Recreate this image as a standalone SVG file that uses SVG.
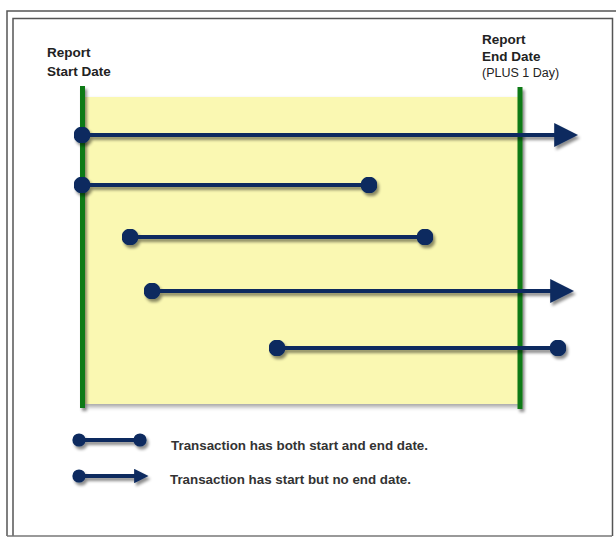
<svg xmlns="http://www.w3.org/2000/svg" width="616" height="539" viewBox="0 0 616 539">
<defs>
<filter id="sh" filterUnits="userSpaceOnUse" x="0" y="0" width="616" height="539">
<feDropShadow dx="2" dy="3" stdDeviation="1.5" flood-color="#000" flood-opacity="0.45"/>
</filter>
<filter id="shb" filterUnits="userSpaceOnUse" x="0" y="0" width="616" height="539">
<feDropShadow dx="3" dy="3" stdDeviation="2" flood-color="#000" flood-opacity="0.35"/>
</filter>
<marker id="dot" viewBox="0 0 10 10" refX="5" refY="5" markerWidth="4.2" markerHeight="4.2" markerUnits="strokeWidth">
<circle cx="5" cy="5" r="5" fill="#0b2a5e"/>
</marker>
<marker id="arr" viewBox="0 0 10 10" refX="2" refY="5" markerWidth="6" markerHeight="6" markerUnits="strokeWidth" orient="auto">
<path d="M0,0 L10,5 L0,10 Z" fill="#0b2a5e"/>
</marker>
<marker id="dotS" viewBox="0 0 10 10" refX="5" refY="5" markerWidth="3.3" markerHeight="3.3" markerUnits="strokeWidth">
<circle cx="5" cy="5" r="5" fill="#0b2a5e"/>
</marker>
<marker id="arrS" viewBox="0 0 10 10" refX="2" refY="5" markerWidth="3.6" markerHeight="3.6" markerUnits="strokeWidth" orient="auto">
<path d="M0,0 L10,5 L0,10 Z" fill="#0b2a5e"/>
</marker>
<style>
.frame{fill:none;stroke:#555;stroke-width:1.5}
.tx{stroke:#0b2a5e;stroke-width:4;fill:none}
.g{fill:#0e7a12}
.lbl{font-family:"Liberation Sans",Arial,sans-serif;font-size:13.5px;font-weight:bold;fill:#222}
.leg{font-family:"Liberation Sans",Arial,sans-serif;font-size:12px;font-weight:bold;fill:#333}
</style>
</defs>
<rect width="616" height="539" fill="#fff"/>
<g id="frame">
<path class="frame" d="M7,536 V11 H616"/>
<path class="frame" d="M13,536 V18.5 H612.5 V536"/>
<line x1="7" y1="536" x2="612" y2="536" stroke="#777" stroke-width="1.5"/>
</g>
<g id="period">
<rect x="83" y="97" width="435" height="307" fill="#faf8b2" filter="url(#shb)"/>
</g>
<g id="start-line">
<rect class="g" x="80" y="86" width="5" height="322" filter="url(#sh)"/>
<text class="lbl" x="47" y="57">Report</text>
<text class="lbl" x="47" y="76">Start Date</text>
</g>
<g id="end-line">
<rect class="g" x="517.5" y="87" width="5" height="322" filter="url(#sh)"/>
<text class="lbl" x="482" y="44">Report</text>
<text class="lbl" x="482" y="61">End Date</text>
<text class="lbl" x="482" y="77" style="font-weight:normal;font-size:12.5px">(PLUS 1 Day)</text>
</g>
<g id="connectors" filter="url(#sh)">
<line class="tx" x1="82" y1="135" x2="559" y2="135" marker-start="url(#dot)" marker-end="url(#arr)"/>
<line class="tx" x1="82" y1="185" x2="369" y2="185" marker-start="url(#dot)" marker-end="url(#dot)"/>
<line class="tx" x1="130" y1="237" x2="425" y2="237" marker-start="url(#dot)" marker-end="url(#dot)"/>
<line class="tx" x1="152" y1="291" x2="555" y2="291" marker-start="url(#dot)" marker-end="url(#arr)"/>
<line class="tx" x1="277" y1="348" x2="558" y2="348" marker-start="url(#dot)" marker-end="url(#dot)"/>
</g>
<g id="legend">
<g filter="url(#sh)">
<line class="tx" x1="79" y1="440" x2="140" y2="440" marker-start="url(#dotS)" marker-end="url(#dotS)"/>
<line class="tx" x1="79" y1="476" x2="137" y2="476" marker-start="url(#dotS)" marker-end="url(#arrS)"/>
</g>
<text class="leg" x="171" y="450" textLength="257" lengthAdjust="spacingAndGlyphs">Transaction has both start and end date.</text>
<text class="leg" x="170" y="484" textLength="241" lengthAdjust="spacingAndGlyphs">Transaction has start but no end date.</text>
</g>
</svg>
